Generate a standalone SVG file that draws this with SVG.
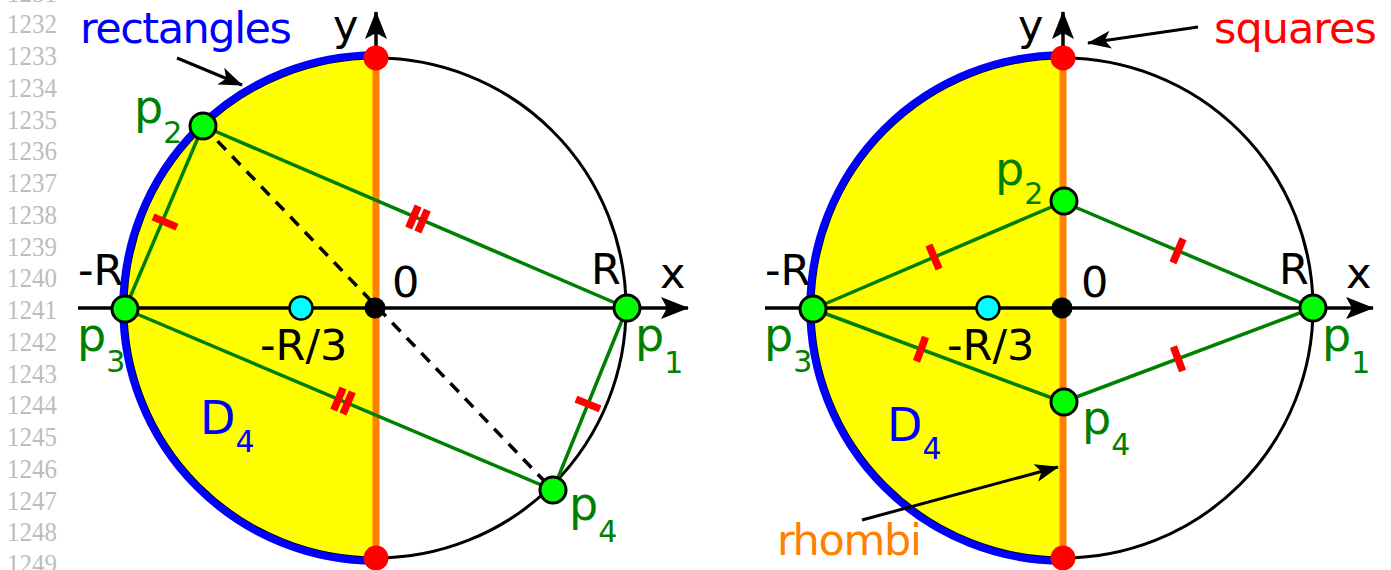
<svg xmlns="http://www.w3.org/2000/svg" width="1391" height="570" viewBox="0 0 1391 570">
<style>
.ln{font-family:"Liberation Serif","Times New Roman",serif;font-size:27px;fill:#bdbdbd}
.lb{font-family:"DejaVu Sans",sans-serif;font-size:43px;fill:#000}
.pl{font-family:"DejaVu Sans",sans-serif;font-size:46px;fill:#008000}
.sub{font-size:30px}
.circ{fill:none;stroke:#000;stroke-width:3}
.blue{fill:none;stroke:#0000ff;stroke-width:7.5}
.axis{fill:none;stroke:#000;stroke-width:3.5}
.or{stroke:#ff8000;stroke-width:7}
.gl{fill:none;stroke:#008000;stroke-width:3.5}
.dash{fill:none;stroke:#000;stroke-width:3.5;stroke-dasharray:12 9}
.tick{stroke:#ff0000;stroke-width:7.5}
.pt{fill:#00ff00;stroke:#000;stroke-width:3}
.red{fill:#ff0000}
.cy{fill:#00ffff;stroke:#000;stroke-width:2.5}
.ann{fill:none;stroke:#000;stroke-width:3}
</style>
<defs>
<marker id="ah" markerUnits="userSpaceOnUse" viewBox="0 0 28 22" refX="27" refY="11" markerWidth="28" markerHeight="22" orient="auto">
<path d="M0,0 L28,11 L0,22 L6,11 Z" fill="#000"/>
</marker>
<marker id="sh" markerUnits="userSpaceOnUse" viewBox="0 0 24 18" refX="23" refY="9" markerWidth="24" markerHeight="18" orient="auto">
<path d="M0,0 L24,9 L0,18 L6,9 Z" fill="#000"/>
</marker>
</defs>
<g id="line-numbers">
<text class="ln" x="7" y="1.5" textLength="50" lengthAdjust="spacingAndGlyphs">1231</text>
<text class="ln" x="7" y="33.3" textLength="50" lengthAdjust="spacingAndGlyphs">1232</text>
<text class="ln" x="7" y="65" textLength="50" lengthAdjust="spacingAndGlyphs">1233</text>
<text class="ln" x="7" y="96.8" textLength="50" lengthAdjust="spacingAndGlyphs">1234</text>
<text class="ln" x="7" y="128.5" textLength="50" lengthAdjust="spacingAndGlyphs">1235</text>
<text class="ln" x="7" y="160.3" textLength="50" lengthAdjust="spacingAndGlyphs">1236</text>
<text class="ln" x="7" y="192" textLength="50" lengthAdjust="spacingAndGlyphs">1237</text>
<text class="ln" x="7" y="223.8" textLength="50" lengthAdjust="spacingAndGlyphs">1238</text>
<text class="ln" x="7" y="255.6" textLength="50" lengthAdjust="spacingAndGlyphs">1239</text>
<text class="ln" x="7" y="287.3" textLength="50" lengthAdjust="spacingAndGlyphs">1240</text>
<text class="ln" x="7" y="319.1" textLength="50" lengthAdjust="spacingAndGlyphs">1241</text>
<text class="ln" x="7" y="350.8" textLength="50" lengthAdjust="spacingAndGlyphs">1242</text>
<text class="ln" x="7" y="382.6" textLength="50" lengthAdjust="spacingAndGlyphs">1243</text>
<text class="ln" x="7" y="414.4" textLength="50" lengthAdjust="spacingAndGlyphs">1244</text>
<text class="ln" x="7" y="446.1" textLength="50" lengthAdjust="spacingAndGlyphs">1245</text>
<text class="ln" x="7" y="477.9" textLength="50" lengthAdjust="spacingAndGlyphs">1246</text>
<text class="ln" x="7" y="509.6" textLength="50" lengthAdjust="spacingAndGlyphs">1247</text>
<text class="ln" x="7" y="541.4" textLength="50" lengthAdjust="spacingAndGlyphs">1248</text>
<text class="ln" x="7" y="573.2" textLength="50" lengthAdjust="spacingAndGlyphs">1249</text>
</g>

<!-- LEFT DIAGRAM -->
<g id="left-disk">
<path d="M376,58 A250,250 0 0 0 376,558 Z" fill="#ffff00"/>
<circle class="circ" cx="376" cy="308" r="250"/>
<path class="blue" d="M376,55 A253,253 0 0 0 376,561"/>
</g>
<g id="left-axes">
<line class="axis" x1="78" y1="308" x2="688" y2="308" marker-end="url(#ah)"/>
<line class="axis" x1="376" y1="558" x2="376" y2="12" marker-end="url(#ah)"/>
<line class="or" x1="376" y1="58" x2="376" y2="558"/>
</g>
<g id="left-connectors">
<line class="dash" x1="203" y1="126" x2="553" y2="490"/>
<line class="gl" x1="203" y1="126" x2="125" y2="309"/>
<line class="gl" x1="203" y1="126" x2="627" y2="308"/>
<line class="gl" x1="125" y1="309" x2="553" y2="490"/>
<line class="gl" x1="627" y1="308" x2="553" y2="490"/>
<line class="tick" x1="153.04" y1="216.9" x2="176.96" y2="227.1"/>
<line class="tick" x1="418.13" y1="206" x2="408.67" y2="228.06"/>
<line class="tick" x1="427.33" y1="209.94" x2="417.87" y2="232"/>
<line class="tick" x1="343.07" y1="388" x2="333.73" y2="410.1"/>
<line class="tick" x1="352.27" y1="391.9" x2="342.93" y2="414"/>
<line class="tick" x1="575.96" y1="399.1" x2="600.04" y2="408.9"/>
<line class="ann" x1="177" y1="58" x2="242" y2="85" marker-end="url(#sh)"/>
</g>
<g id="left-points">
<circle class="red" cx="376" cy="58" r="12.5"/>
<circle class="red" cx="376" cy="558" r="12.5"/>
<circle cx="375" cy="308" r="10.5" fill="#000"/>
<circle class="cy" cx="301" cy="308" r="11.5"/>
<circle class="pt" cx="203" cy="126" r="13"/>
<circle class="pt" cx="125" cy="309" r="13"/>
<circle class="pt" cx="627" cy="308" r="13"/>
<circle class="pt" cx="553" cy="490" r="13"/>
</g>
<g id="left-labels">
<text class="lb" x="80" y="43" style="fill:#0000ff" textLength="212">rectangles</text>
<text class="lb" x="333" y="40">y</text>
<text class="lb" x="660" y="288">x</text>
<text class="lb" x="392" y="297">0</text>
<text class="lb" x="591" y="284">R</text>
<text class="lb" x="78" y="285">-R</text>
<text class="lb" x="260" y="360">-R/3</text>
<text class="pl" x="134" y="123">p<tspan class="sub" dy="20">2</tspan></text>
<text class="pl" x="77" y="351">p<tspan class="sub" dy="21">3</tspan></text>
<text class="pl" x="635" y="351">p<tspan class="sub" dy="22">1</tspan></text>
<text class="pl" x="569" y="520">p<tspan class="sub" dy="22">4</tspan></text>
<text class="pl" x="200" y="434" style="fill:#0000ff">D<tspan class="sub" dy="18">4</tspan></text>
</g>

<!-- RIGHT DIAGRAM -->
<g id="right-disk">
<path d="M1063,58 A250,250 0 0 0 1063,558 Z" fill="#ffff00"/>
<circle class="circ" cx="1063" cy="308" r="250"/>
<path class="blue" d="M1063,55 A253,253 0 0 0 1063,561"/>
</g>
<g id="right-axes">
<line class="axis" x1="765" y1="308" x2="1373" y2="308" marker-end="url(#ah)"/>
<line class="axis" x1="1063" y1="558" x2="1063" y2="12" marker-end="url(#ah)"/>
<line class="or" x1="1063" y1="58" x2="1063" y2="558"/>
</g>
<g id="right-connectors">
<line class="gl" x1="813" y1="309" x2="1063" y2="202"/>
<line class="gl" x1="1063" y1="202" x2="1313" y2="308"/>
<line class="gl" x1="813" y1="309" x2="1063" y2="402"/>
<line class="gl" x1="1063" y1="402" x2="1313" y2="308"/>
<line class="tick" x1="928.88" y1="245.05" x2="939.12" y2="268.95"/>
<line class="tick" x1="925.54" y1="337.02" x2="916.46" y2="361.38"/>
<line class="tick" x1="1183.07" y1="238.83" x2="1172.93" y2="262.77"/>
<line class="tick" x1="1173.42" y1="346.63" x2="1182.58" y2="370.97"/>
<line class="ann" x1="1198" y1="27" x2="1088" y2="43" marker-end="url(#sh)"/>
<line class="ann" x1="862" y1="520" x2="1058" y2="467" marker-end="url(#sh)"/>
</g>
<g id="right-points">
<circle class="red" cx="1063" cy="58" r="12.5"/>
<circle class="red" cx="1063" cy="558" r="12.5"/>
<circle cx="1062" cy="308" r="10.5" fill="#000"/>
<circle class="cy" cx="988" cy="308" r="11.5"/>
<circle class="pt" cx="1064" cy="201" r="13"/>
<circle class="pt" cx="813" cy="309" r="13"/>
<circle class="pt" cx="1313" cy="308" r="13"/>
<circle class="pt" cx="1064" cy="402" r="13"/>
</g>
<g id="right-labels">
<text class="lb" x="1214" y="43" style="fill:#ff0000" textLength="163">squares</text>
<text class="lb" x="777" y="555" style="fill:#ff8000" textLength="145">rhombi</text>
<text class="lb" x="1018" y="40">y</text>
<text class="lb" x="1346" y="288">x</text>
<text class="lb" x="1081" y="297">0</text>
<text class="lb" x="1279" y="284">R</text>
<text class="lb" x="765" y="285">-R</text>
<text class="lb" x="947" y="360">-R/3</text>
<text class="pl" x="995" y="185">p<tspan class="sub" dy="19">2</tspan></text>
<text class="pl" x="764" y="351">p<tspan class="sub" dy="21">3</tspan></text>
<text class="pl" x="1322" y="351">p<tspan class="sub" dy="22">1</tspan></text>
<text class="pl" x="1082" y="434">p<tspan class="sub" dy="21">4</tspan></text>
<text class="pl" x="887" y="441" style="fill:#0000ff">D<tspan class="sub" dy="18">4</tspan></text>
</g>
</svg>
